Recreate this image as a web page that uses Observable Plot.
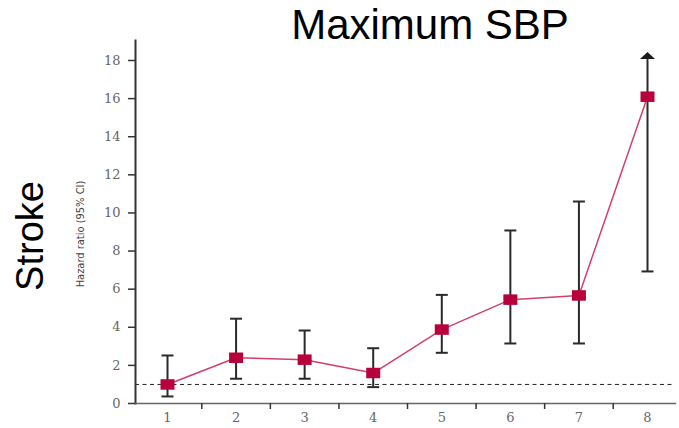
<!DOCTYPE html>
<html>
<head>
<meta charset="utf-8">
<script src="https://cdn.jsdelivr.net/npm/d3@7"></script>
<script src="https://cdn.jsdelivr.net/npm/@observablehq/plot@0.6"></script>
<style>
  html, body { margin: 0; padding: 0; background: #fff; }
  #wrap { position: relative; width: 679px; height: 428px; }
  #title { position: absolute; left: 0; width: 860px; top: 1px; text-align: center;
           font-family: "Liberation Sans", Arial, sans-serif; font-size: 42px; color: #000; }
</style>
</head>
<body>
<div id="wrap">
  <div id="chart"></div>
  <div id="title">Maximum SBP</div>
</div>
<script>
const title = "Maximum SBP";
const rowLabel = "Stroke";
const yLabel = "Hazard ratio (95% CI)";
const categories = [1, 2, 3, 4, 5, 6, 7, 8];
const hazard = [1.0, 2.4, 2.3, 1.6, 3.88, 5.45, 5.67, 16.1];
const ciLow  = [0.37, 1.3, 1.3, 0.86, 2.66, 3.15, 3.15, 6.93];
const ciHigh = [2.52, 4.45, 3.83, 2.9, 5.7, 9.08, 10.6, 18.45];
const openUpper = [false, false, false, false, false, false, false, true];
const yTicks = [0, 2, 4, 6, 8, 10, 12, 14, 16, 18];
const xDividers = [1.5, 2.5, 3.5, 4.5, 5.5, 6.5, 7.5];
const reference = [1];

const data = categories.map((c, i) => ({cat: c, hr: hazard[i], lo: ciLow[i], hi: ciHigh[i], open: openUpper[i]}));

const capSymbol = {draw(ctx, size) { const w = Math.sqrt(size / Math.PI); ctx.moveTo(-w, 0); ctx.lineTo(w, 0); }};
const squareSymbol = {draw(ctx, size) { const w = Math.sqrt(size / Math.PI); ctx.rect(-w, -w * 0.75, 2 * w, 1.5 * w); }};
const arrowSymbol = {draw(ctx, size) { const w = Math.sqrt(size / Math.PI); ctx.moveTo(0, 0); ctx.lineTo(w, w * 0.95); ctx.lineTo(-w, w * 0.95); ctx.closePath(); }};

const chart = Plot.plot({
  width: 679,
  height: 428,
  marginLeft: 135,
  marginRight: 4,
  marginTop: 40,
  marginBottom: 25,
  style: {background: "#fff", overflow: "visible"},
  x: {type: "linear", domain: [1, 8], range: [167, 647]},
  y: {domain: [0, 18], range: [403, 60]},
  marks: [
    Plot.ruleY(reference, {y: d => d, stroke: "#222", strokeWidth: 1, strokeDasharray: "4,3.5"}),
    Plot.frame({anchor: "left", stroke: "#333", strokeWidth: 2}),
    Plot.frame({anchor: "bottom", stroke: "#666", strokeWidth: 1.5}),
    Plot.axisY({ticks: yTicks, tickSize: 7, tickPadding: 8, label: null, fontSize: 13,
                fontFamily: "DejaVu Serif", color: "#666", stroke: "#333", strokeWidth: 1.5}),
    Plot.axisX({ticks: xDividers, tickSize: 6, tickFormat: () => "", label: null, stroke: "#333", strokeWidth: 1.5}),
    Plot.axisX({ticks: categories, tickSize: 0, tickPadding: 9, label: null, fontSize: 13,
                fontFamily: "DejaVu Serif", color: "#666", tickFormat: d => String(d)}),
    Plot.ruleX(data, {x: "cat", y1: "lo", y2: d => d.open ? d.hi - 0.4 : d.hi, stroke: "#2a2a2a", strokeWidth: 2}),
    Plot.dot(data, {x: "cat", y: "lo", symbol: capSymbol, r: 6, stroke: "#2a2a2a", strokeWidth: 2, fill: "none"}),
    Plot.dot(data.filter(d => !d.open), {x: "cat", y: "hi", symbol: capSymbol, r: 6, stroke: "#2a2a2a", strokeWidth: 2, fill: "none"}),
    Plot.dot(data.filter(d => d.open), {x: "cat", y: "hi", symbol: arrowSymbol, r: 7.5, fill: "#1a1a1a", stroke: "none"}),
    Plot.line(data, {x: "cat", y: "hr", stroke: "#d2406a", strokeWidth: 1.5}),
    Plot.dot(data, {x: "cat", y: "hr", symbol: squareSymbol, r: 7, fill: "#b8003c", stroke: "none"}),
    Plot.text([yLabel], {frameAnchor: "left", dx: -55, dy: 12, rotate: -90, textAnchor: "middle", lineAnchor: "middle",
                         fontSize: 11, fontFamily: "DejaVu Sans Condensed, Liberation Sans Narrow, DejaVu Sans", fill: "#444"}),
    Plot.text([rowLabel], {frameAnchor: "left", dx: -105, dy: 14, rotate: -90, textAnchor: "middle", lineAnchor: "middle",
                           fontSize: 38, fontFamily: "Liberation Sans, Arial", fill: "#000"})
  ]
});
document.getElementById("chart").appendChild(chart);
document.getElementById("title").textContent = title;
</script>
</body>
</html>
